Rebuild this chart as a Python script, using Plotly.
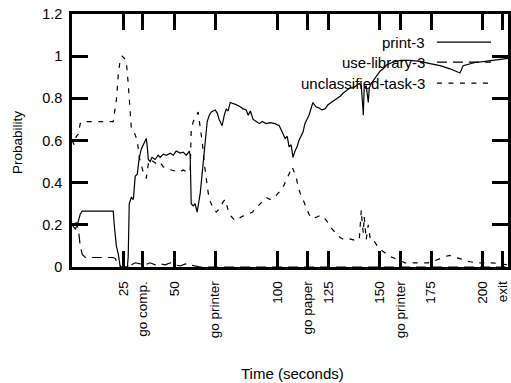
import plotly.graph_objects as go

# ---------------- data ----------------
print_t = [0, 0.6, 1.6, 2.6, 4, 5, 20.1, 20.6, 21.1, 21.6, 22.6, 23, 23.5, 27, 27.4, 27.9, 28.9, 29.9,
           30.8, 31.8, 32.3, 32.8, 33.8, 34.7, 35.7, 36.2, 36.7, 37.2, 38.1, 39, 40.5, 42, 43, 44.5, 46,
           47.9, 49.3, 50.8, 52.7, 54.2, 55.7, 57.2, 57.6, 58.1, 59.1, 60, 61, 62, 62.5, 63, 64, 64.9,
           65.4, 65.9, 66.9, 67.9, 68.8, 69.8, 70.8, 71.7, 73.2, 74.2, 75.2, 76.1, 77.1, 78.6, 80, 82,
           83.4, 84.9, 85.9, 86.9, 88.3, 89.8, 91.3, 92.7, 94.6, 96.6, 99, 101, 102.4, 103.9, 104.9,
           105.8, 106.8, 107.7, 108.7, 109.7, 110.6, 111.6, 112.6, 113.5, 114.5, 115.5, 117.4, 118.9,
           120.3, 121.8, 123.3, 124.8, 126.3, 127.8, 129.2, 130.7, 132.2, 134.1, 135.6, 137.1, 138.5,
           140, 141, 141.5, 142, 142.4, 143.4, 144.4, 144.9, 145.8, 147.3, 148.8, 150.2, 151.7, 153.6,
           156, 160, 164.8, 169.6, 174.5, 179.4, 184.2, 187.2, 189.1, 190.6, 194, 196.4, 201.3, 206.2,
           208.7, 212.5]
print_p = [0.20, 0.19, 0.18, 0.20, 0.25, 0.265, 0.265, 0.20, 0.13, 0.10, 0.06, 0.02, 0.0, 0.0, 0.05, 0.30,
           0.33, 0.32, 0.43, 0.44, 0.50, 0.52, 0.56, 0.58, 0.60, 0.61, 0.57, 0.51, 0.50, 0.52, 0.51, 0.53,
           0.52, 0.535, 0.53, 0.54, 0.53, 0.55, 0.54, 0.545, 0.53, 0.55, 0.53, 0.30, 0.29, 0.30, 0.26,
           0.31, 0.35, 0.40, 0.50, 0.60, 0.63, 0.69, 0.72, 0.735, 0.74, 0.745, 0.73, 0.70, 0.67, 0.72,
           0.75, 0.74, 0.78, 0.775, 0.77, 0.76, 0.75, 0.745, 0.72, 0.74, 0.70, 0.69, 0.68, 0.69, 0.68,
           0.685, 0.68, 0.67, 0.64, 0.61, 0.62, 0.57, 0.58, 0.52, 0.55, 0.57, 0.60, 0.62, 0.64, 0.68,
           0.70, 0.72, 0.78, 0.76, 0.755, 0.745, 0.75, 0.77, 0.78, 0.79, 0.80, 0.81, 0.825, 0.84, 0.85,
           0.85, 0.86, 0.87, 0.86, 0.76, 0.72, 0.85, 0.86, 0.78, 0.85, 0.87, 0.89, 0.91, 0.93, 0.94,
           0.96, 0.97, 0.98, 0.98, 0.975, 0.965, 0.955, 0.94, 0.93, 0.92, 0.955, 0.965, 0.97, 0.975,
           0.98, 0.985, 0.99]

lib_t = [0, 2.1, 3.1, 4, 5, 6.5, 20.1, 21.1, 22.1, 23, 24, 27, 27.9, 28.9, 30.8, 33.3, 35.7, 38.1, 40.5,
         43, 45.4, 47.9, 50.3, 52.7, 55.2, 57.6, 60, 62.5, 212.5]
lib_p = [0.20, 0.21, 0.18, 0.10, 0.06, 0.045, 0.045, 0.04, 0.02, 0.01, 0.0, 0.0, 0.02, 0.01, 0.02, 0.015,
         0.01, 0.02, 0.01, 0.015, 0.01, 0.02, 0.01, 0.005, 0.015, 0.01, 0.005, 0.0, 0.0]

unc_t = [0, 1.1, 2.1, 3.1, 4, 5, 20.1, 20.6, 21.6, 22.1, 22.6, 23.5, 24.5, 25.5, 26.4, 27.4, 27.9, 28.4,
         28.9, 29.9, 30.8, 31.8, 32.8, 33.8, 34.7, 35.7, 36.2, 37.2, 38.1, 39.6, 41.1, 42.6, 44.5, 46.5,
         48.4, 50.3, 52.3, 54.2, 56.2, 57.6, 58.1, 59.1, 60.6, 61.5, 62.5, 63.5, 64.5, 65.4, 66.4, 67.4,
         68.8, 70.3, 72.2, 73.7, 74.7, 76.1, 77.6, 79.5, 81.1, 83, 85.4, 87.9, 90.3, 92.7, 94.6, 96.6,
         98.6, 100.5, 102.4, 104.4, 105.8, 107.3, 108.3, 109.2, 110.2, 111.2, 112.6, 114.1, 115.5, 117,
         118.9, 120.9, 122.8, 124.8, 126.8, 128.7, 130.7, 132.6, 134.6, 136.6, 138.5, 140, 141, 141.5,
         142, 142.4, 143.4, 144.4, 145.4, 146.8, 148.8, 150.7, 152.6, 155, 157.5, 160, 162.3, 165.8,
         169.6, 173.5, 176.9, 179.4, 181.8, 184.2, 186.7, 189.1, 191.5, 194, 197.4, 201.3, 204.7,
         208.7, 212.5]
unc_p = [0.60, 0.58, 0.62, 0.63, 0.68, 0.69, 0.69, 0.72, 0.79, 0.85, 0.92, 0.98, 1.0, 0.99, 0.98, 0.87,
         0.78, 0.70, 0.66, 0.65, 0.63, 0.60, 0.52, 0.48, 0.45, 0.43, 0.42, 0.49, 0.51, 0.50, 0.49, 0.50,
         0.475, 0.47, 0.46, 0.455, 0.45, 0.46, 0.45, 0.45, 0.65, 0.69, 0.72, 0.735, 0.66, 0.59, 0.49,
         0.43, 0.35, 0.31, 0.28, 0.26, 0.28, 0.31, 0.32, 0.27, 0.24, 0.22, 0.23, 0.24, 0.25, 0.26, 0.285,
         0.31, 0.33, 0.32, 0.33, 0.35, 0.37, 0.41, 0.44, 0.475, 0.45, 0.43, 0.38, 0.35, 0.32, 0.28, 0.25,
         0.23, 0.235, 0.245, 0.235, 0.21, 0.18, 0.16, 0.14, 0.13, 0.135, 0.13, 0.125, 0.13, 0.27, 0.20,
         0.16, 0.24, 0.13, 0.20, 0.13, 0.13, 0.10, 0.08, 0.065, 0.05, 0.04, 0.03, 0.02, 0.02, 0.02, 0.02,
         0.03, 0.04, 0.05, 0.055, 0.045, 0.04, 0.03, 0.025, 0.02, 0.02, 0.02, 0.015, 0.01]

series_names = ["print-3", "use-library-3", "unclassified-task-3"]
series_dash = ["solid", "10px,6px", "5px,6.5px"]

x_tickvals = [25, 34.6, 50, 69.7, 100, 115, 125, 150, 160, 175, 200, 209.7]
x_ticktext = ["25", "go comp.", "50", "go printer", "100", "go paper", "125", "150",
              "go printer", "175", "200", "exit"]
y_tickvals = [0, 0.2, 0.4, 0.6, 0.8, 1.0, 1.2]
y_ticktext = ["0", "0.2", "0.4", "0.6", "0.8", "1", "1.2"]

FONT = "Liberation Sans, Arial, Helvetica, sans-serif"

fig = go.Figure()
for (t, p), name, dash in zip([(print_t, print_p), (lib_t, lib_p), (unc_t, unc_p)], series_names, series_dash):
    fig.add_trace(go.Scatter(x=t, y=p, mode="lines", name=name, showlegend=False,
                             line=dict(color="black", width=1.2, dash=dash)))

# custom gnuplot-style legend: right-aligned text, sample line to the right
legend_y = [0.889, 0.810, 0.727]
for name, dash, ly in zip(series_names, series_dash, legend_y):
    fig.add_annotation(x=0.814, y=ly, xref="paper", yref="paper", text=name, showarrow=False,
                       xanchor="right", yanchor="middle", font=dict(family=FONT, size=15, color="black"))
    fig.add_shape(type="line", xref="paper", yref="paper", x0=0.837, x1=0.961, y0=ly, y1=ly,
                  line=dict(color="black", width=1.2, dash=dash))

# axis titles
fig.add_annotation(x=0.505, y=-0.419, xref="paper", yref="paper", text="Time (seconds)", showarrow=False,
                   xanchor="center", yanchor="middle", font=dict(family=FONT, size=15, color="black"))
fig.add_annotation(x=-0.126, y=0.49, xref="paper", yref="paper", text="Probability", showarrow=False,
                   textangle=-90, xanchor="center", yanchor="middle",
                   font=dict(family=FONT, size=13.5, color="black"))

fig.update_xaxes(range=[0, 212.5], tickmode="array", tickvals=x_tickvals, ticktext=x_ticktext,
                 tickangle=-90, ticks="inside", ticklen=16, tickwidth=3, tickcolor="black",
                 showline=True, linewidth=2.5, linecolor="black", mirror="ticks",
                 showgrid=False, zeroline=False, ticklabelstandoff=6, ticklabeloverflow="allow",
                 tickfont=dict(family=FONT, size=13.5, color="black"))
fig.update_yaxes(range=[0, 1.2], tickmode="array", tickvals=y_tickvals, ticktext=y_ticktext,
                 ticks="inside", ticklen=16, tickwidth=3, tickcolor="black",
                 showline=True, linewidth=2.5, linecolor="black", mirror="ticks",
                 showgrid=False, zeroline=False, ticklabelstandoff=4, ticklabeloverflow="allow",
                 tickfont=dict(family=FONT, size=14.5, color="black"))

fig.update_layout(width=511, height=383, margin=dict(l=72, r=3, t=14, b=116, autoexpand=False),
                  paper_bgcolor="white", plot_bgcolor="white")

# remove the browser's default 8px body margin so the figure fills the window
fig.write_html("out.html", config={"displayModeBar": False},
               post_script="document.body.style.margin='0';")
